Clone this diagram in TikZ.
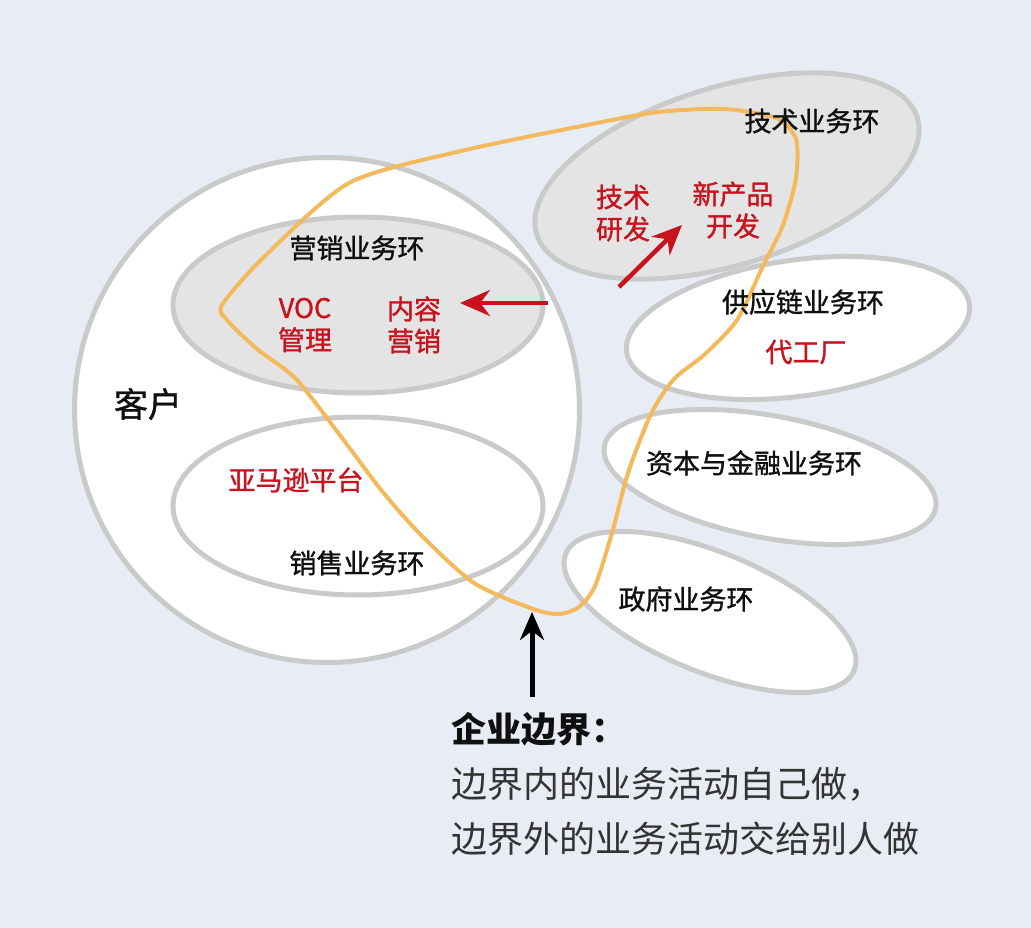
\documentclass[tikz,border=0pt]{standalone}
\usepackage{fontspec}
\setmainfont{Noto Sans CJK SC}
\newfontfamily\lblfont[FakeBold=1.2]{Noto Sans CJK SC}
\usepackage{xcolor}
\usepackage{tikz}
\usetikzlibrary{shapes.geometric, arrows.meta, positioning}

\definecolor{bgblue}{RGB}{232,236,245}
\definecolor{ringgray}{RGB}{202,202,202}
\definecolor{ringfill}{RGB}{228,228,228}
\definecolor{markred}{RGB}{200,18,30}
\definecolor{edgeorange}{RGB}{242,186,92}
\definecolor{ink}{RGB}{15,15,15}

\begin{document}
\begin{tikzpicture}[x=1pt, y=-1pt,
    ring/.style={ellipse, draw=ringgray, line width=5pt, fill=white, inner sep=0pt},
    greyring/.style={ring, fill=ringfill},
    lbl/.style={font=\lblfont\fontsize{27}{32}\selectfont, text=ink, align=center, inner sep=0pt},
    redlbl/.style={lbl, text=markred},
    redarrow/.style={draw=markred, line width=4.5pt, -{Stealth[length=30pt, width=26pt]}},
    blackarrow/.style={draw=black, line width=5pt, -{Stealth[length=28pt, width=24pt]}},
    boundary/.style={draw=edgeorange, line width=4pt, line join=round}
]
    % background
    \path[fill=bgblue, use as bounding box] (0,0) rectangle (1031,928);

    % --- Rings ---
    \node[ring, circle, minimum size=505pt] (cust) at (327,410) {};
    \node[greyring, minimum width=370pt, minimum height=176pt] (mkt) at (358,305) {};
    \node[ring, minimum width=370pt, minimum height=178pt] (sales) at (358,506) {};
    \node[greyring, minimum width=398pt, minimum height=178pt, rotate=17] (tech) at (727,176) {};
    \node[ring, minimum width=346pt, minimum height=136pt, rotate=8] (supply) at (798,328) {};
    \node[ring, minimum width=337pt, minimum height=122pt, rotate=-10.6] (capital) at (770,477) {};
    \node[ring, minimum width=311pt, minimum height=120pt, rotate=-22] (gov) at (710,612) {};

    % --- Enterprise boundary ---
    \draw[boundary] plot[smooth cycle, tension=0.45] coordinates {
        (222,305) (263,258) (349,183) (461,151) (592,124) (658,112) (724,109)
        (776,118) (796,139) (796,178) (783,225) (763,266) (737,320) (704,355)
        (674,379) (651,414) (628,473) (612,533) (595,586) (579,607) (559,614)
        (533,609) (474,583) (421,535) (382,491) (342,438) (296,379) (257,349)
        (227,320)};

    % --- Labels ---
    \node[lbl] (techlbl) at (812,121) {技术业务环};
    \node[redlbl] (rnd) at (623,213) {技术\\研发};
    \node[redlbl] (newprod) at (733,210) {新产品\\开发};
    \node[lbl] (mktlbl) at (357,248) {营销业务环};
    \node[redlbl] (voc) at (305,325) {VOC\\管理};
    \node[redlbl] (content) at (414,325) {内容\\营销};
    \node[lbl, font=\lblfont\fontsize{34}{40}\selectfont] (custlbl) at (148,404) {客户};
    \node[redlbl] (amazon) at (296,480) {亚马逊平台};
    \node[lbl] (saleslbl) at (357,563) {销售业务环};
    \node[lbl] (supplylbl) at (803,302) {供应链业务环};
    \node[redlbl] (oem) at (806,352) {代工厂};
    \node[lbl] (capitallbl) at (754,463) {资本与金融业务环};
    \node[lbl] (govlbl) at (686,599) {政府业务环};

    \node[lbl, anchor=west, font=\fontsize{35}{40}\selectfont\bfseries] (boundlbl) at (451,729) {企业边界：};
    \node[lbl, anchor=west, align=left, text=black!80, font=\fontsize{36}{55}\selectfont] (note) at (451,811)
        {边界内的业务活动自己做，\\边界外的业务活动交给别人做};

    % --- Arrows ---
    \coordinate (mktin) at (548,303);
    \coordinate (contentin) at (460,303);
    \coordinate (rndout) at (619,287);
    \coordinate (newin) at (682,225);
    \coordinate (notetop) at (532,697);
    \coordinate (edgebottom) at (532,612);

    \draw[redarrow] (mktin) -- (contentin);
    \draw[redarrow] (rndout) -- (newin);
    \draw[blackarrow] (notetop) -- (edgebottom);

\end{tikzpicture}
\end{document}
